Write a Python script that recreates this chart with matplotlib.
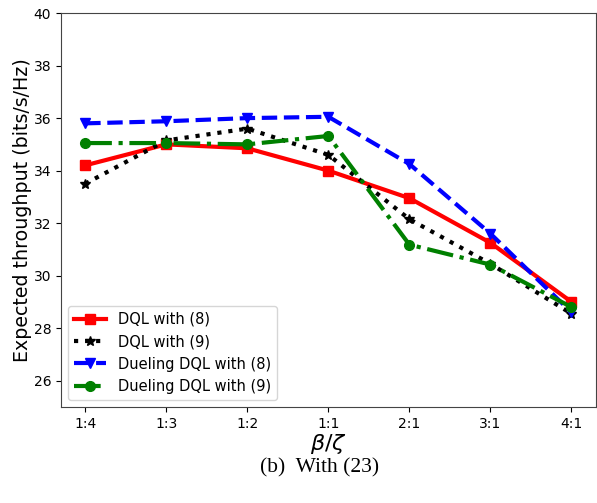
import matplotlib
matplotlib.use("Agg")
import matplotlib.pyplot as plt
import numpy as np

# ratio beta/zeta categories
ratios = ["1:4", "1:3", "1:2", "1:1", "2:1", "3:1", "4:1"]

# expected throughput (bits/s/Hz)
dql_8 = [34.2, 35.0, 34.85, 34.0, 32.95, 31.25, 29.0]
dql_9 = [33.5, 35.15, 35.6, 34.6, 32.15, 30.45, 28.55]
dueling_8 = [35.8, 35.88, 36.0, 36.05, 34.25, 31.6, 28.6]
dueling_9 = [35.05, 35.05, 35.0, 35.32, 31.18, 30.42, 28.8]

fig = plt.figure(figsize=(5.97, 5.03), dpi=100)
ax = fig.add_axes([0.102, 0.191, 0.896, 0.783])

x = np.arange(len(ratios))
ax.plot(x, dql_8, color="red", linestyle="-", marker="s", linewidth=3, markersize=7, label="DQL with (8)")
ax.plot(x, dql_9, color="black", linestyle=":", marker="*", linewidth=3, markersize=7, label="DQL with (9)")
ax.plot(x, dueling_8, color="blue", linestyle="--", marker="v", linewidth=3, markersize=7, label="Dueling DQL with (8)")
ax.plot(x, dueling_9, color="green", linestyle="-.", marker="o", linewidth=3, markersize=7, label="Dueling DQL with (9)")

ax.set_xticks(x)
ax.set_xticklabels(ratios)
ax.set_ylim(25, 40)
ax.set_yticks([26, 28, 30, 32, 34, 36, 38, 40])
ax.tick_params(labelsize=10)
for s in ax.spines.values():
    s.set_color("#444444")

ax.set_xlabel(r"$\beta/\zeta$", fontsize=16, labelpad=1)
ax.set_ylabel("Expected throughput (bits/s/Hz)", fontsize=13.7, labelpad=1)
ax.legend(loc="lower left", fontsize=10.5, handlelength=2.2)

fig.text(0.535, 0.07, "(b)  With (23)", ha="center", va="center",
         fontsize=15.5, family="Liberation Serif")

fig.savefig("out.png", dpi=100)
